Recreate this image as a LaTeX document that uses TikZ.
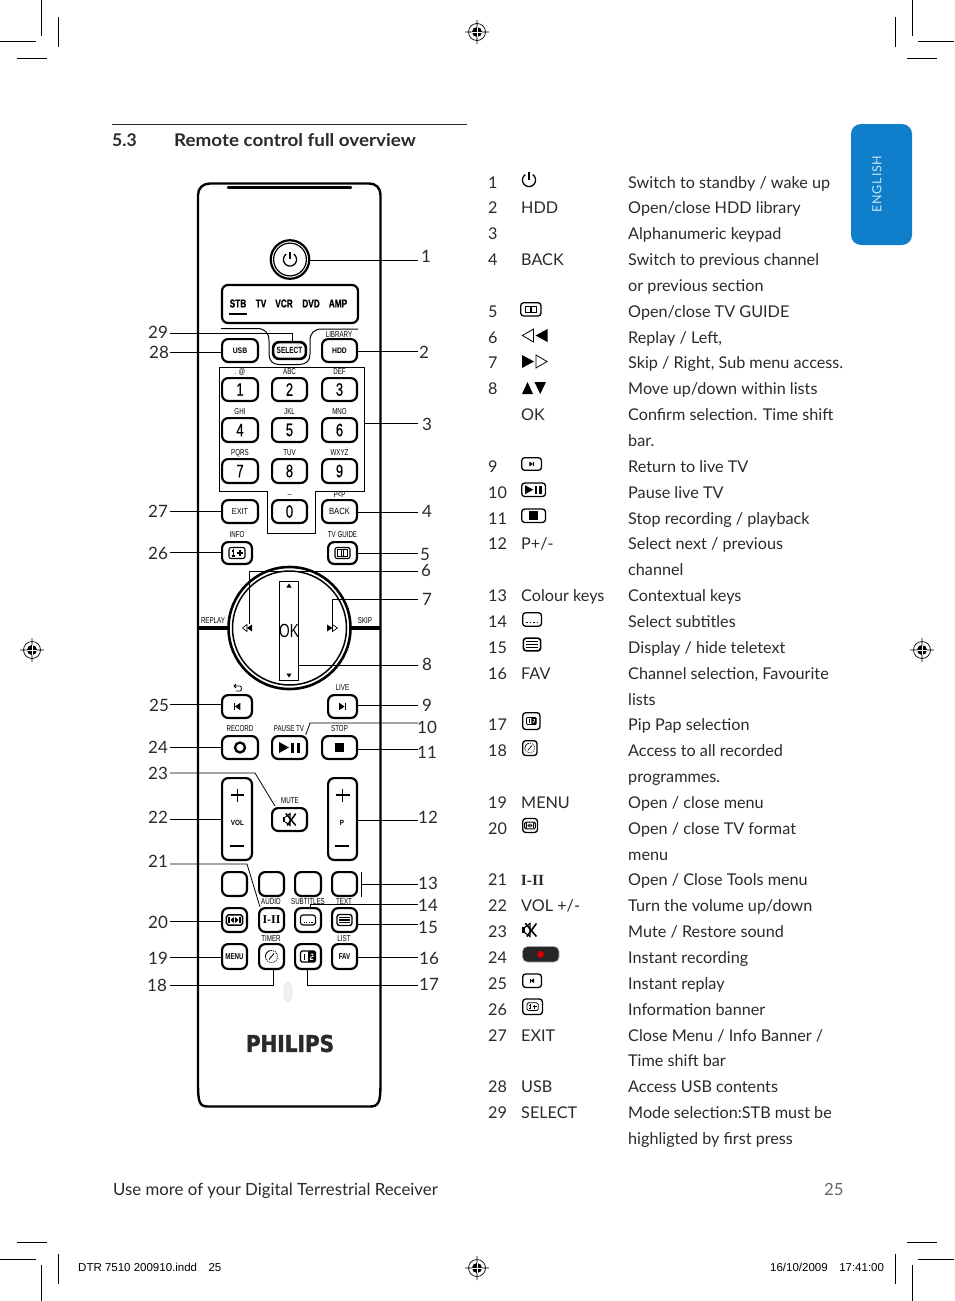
\documentclass[tikz,border=0pt]{standalone}
\usepackage{fontspec}
\usetikzlibrary{calc}
\setmainfont{Lato}
\newfontfamily\rmt[FakeStretch=0.72]{Liberation Sans}
\newfontfamily\rmd[FakeStretch=0.72,FakeBold=0.6]{Liberation Sans}
\newfontfamily\rmw[FakeStretch=0.85]{Liberation Sans}
\newfontfamily\slugf{Liberation Sans}
\newfontfamily\phil[FakeStretch=0.87,FakeBold=1.6]{DejaVu Sans}
\newfontfamily\serf{Liberation Serif}
\newcommand\fz[1]{\fontsize{#1}{#1}\selectfont}
\definecolor{ink}{HTML}{2B2A29}
\definecolor{tabblue}{HTML}{0F7FCC}
\tikzset{
 btn/.style={draw=black,line width=2.2pt,rounded corners=6pt,fill=white,inner sep=0pt,text=black},
 lab/.style={inner sep=0pt,text=black,font=\rmt\fz{8.6}},
 leader/.style={draw=black,line width=0.8pt},
 callout/.style={inner sep=0pt,text=ink,font=\fz{17}},
 body/.style={inner sep=0pt,anchor=base west,text=ink,font=\fz{16.2}},
 crop/.style={draw=black,line width=0.7pt},
}
\newcommand\btn[6][]{%
 \pgfmathsetmacro\bw{#4-#3-2.2}\pgfmathsetmacro\bh{#6-#5-2.2}%
 \node[btn,minimum width=\bw pt,minimum height=\bh pt,#1] (#2) at ({(#3+#4)/2},{(#5+#6)/2}) {};}
\newcommand\gPower[2]{\begin{scope}[shift={(#1)},scale=#2]
 \draw[line width=#2*1.3pt] plot[domain=125:415,samples=40] ({6.5*cos(\x)},{-6.5*sin(\x)});
 \draw[line width=#2*1.3pt] (0,-8)--(0,-0.5);
\end{scope}}
\newcommand\gBook[2]{\begin{scope}[shift={(#1)},scale=#2]
 \draw[line width=#2*1.1pt,rounded corners=#2*2pt] (-7.5,-5.5) rectangle (7.5,5.5);
 \draw[line width=#2*0.9pt] (-5,-3.5) rectangle (5,3.5) (-0.8,-3.5)--(-0.8,3.5) (0.8,-3.5)--(0.8,3.5);
\end{scope}}
\newcommand\gInfo[2]{\begin{scope}[shift={(#1)},scale=#2]
 \draw[line width=#2*1.1pt,rounded corners=#2*2pt] (-8,-5.5) rectangle (8,5.5);
 \draw[line width=#2*1.1pt] (-5,-2)--(-3.8,-2)--(-3.8,3) (-5.2,3)--(-2.4,3) (-3.8,-4)--(-3.8,-3.2);
 \draw[line width=#2*1.2pt] (3,-3)--(3,3) (0,0)--(6,0);
\end{scope}}
\newcommand\gPrev[2]{\begin{scope}[shift={(#1)},scale=#2]
 \fill (-4,-4) rectangle (-2.4,4); \fill (4,-4.4)--(4,4.4)--(-2.4,0)--cycle;
\end{scope}}
\newcommand\gNext[2]{\begin{scope}[shift={(#1)},scale=#2]
 \fill (4,-4) rectangle (2.4,4); \fill (-4,-4.4)--(-4,4.4)--(2.4,0)--cycle;
\end{scope}}
\newcommand\gRec[2]{\begin{scope}[shift={(#1)},scale=#2]
 \draw[line width=#2*2.3pt] (0,0) circle[radius=5];
\end{scope}}
\newcommand\gPlayPause[2]{\begin{scope}[shift={(#1)},scale=#2]
 \fill (-10.5,-5.5)--(-10.5,5.5)--(-0.5,0)--cycle;
 \fill (1.5,-5) rectangle (4.6,5); \fill (7,-5) rectangle (10.1,5);
\end{scope}}
\newcommand\gStop[2]{\begin{scope}[shift={(#1)},scale=#2]
 \fill (-4.7,-4.7) rectangle (4.7,4.7);
\end{scope}}
\newcommand\gMute[2]{\begin{scope}[shift={(#1)},scale=#2]
 \fill (-7,-2.6) rectangle (-4.4,2.6);
 \draw[line width=#2*1.1pt] (-4.4,-2.6)--(0.5,-6.2)--(0.5,6.2)--(-4.4,2.6);
 \draw[line width=#2*1.5pt] (-4,-6.4)--(6.6,6.2) (-2.5,6.2)--(6.6,-6.2);
\end{scope}}
\newcommand\gFormat[2]{\begin{scope}[shift={(#1)},scale=#2]
 \draw[line width=#2*1.6pt,rounded corners=#2*2pt] (-8.5,-5.5) rectangle (8.5,5.5);
 \fill (-6.5,-3.5) rectangle (-4.8,3.5); \fill (6.5,-3.5) rectangle (4.8,3.5);
 \fill (-4.2,0)--(-0.6,-3.2)--(-0.6,3.2)--cycle; \fill (4.2,0)--(0.6,-3.2)--(0.6,3.2)--cycle;
\end{scope}}
\newcommand\gSub[2]{\begin{scope}[shift={(#1)},scale=#2]
 \draw[line width=#2*1.1pt,rounded corners=#2*2.5pt] (-7.5,-5)--(7.5,-5)--(7.5,5)--(-7.5,5)--cycle;
 \foreach \dx in {-3.9,-1.3,1.3,3.9}{\fill (\dx-0.6,1.6) rectangle (\dx+0.6,2.9);}
\end{scope}}
\newcommand\gText[2]{\begin{scope}[shift={(#1)},scale=#2]
 \draw[line width=#2*1.4pt,rounded corners=#2*2.5pt] (-7.5,-5.5) rectangle (7.5,5.5);
 \draw[line width=#2*1.2pt] (-5.5,-2.6)--(5.5,-2.6) (-5.5,0)--(5.5,0) (-5.5,2.6)--(5.5,2.6);
\end{scope}}
\newcommand\gTimer[2]{\begin{scope}[shift={(#1)},scale=#2]
 \draw[line width=#2*0.9pt] plot[domain=100:190,samples=10] ({6*cos(\x)},{-6*sin(\x)});
 \draw[line width=#2*0.9pt,densely dotted] plot[domain=190:460,samples=30] ({6*cos(\x)},{-6*sin(\x)});
 \draw[line width=#2*0.9pt] (-2.5,3)--(2.5,-3);
\end{scope}}
\newcommand\gPip[2]{\begin{scope}[shift={(#1)},scale=#2]
 \draw[line width=#2*1.1pt,rounded corners=#2*1.5pt] (-7.5,-5.5) rectangle (7.5,5.5);
 \fill[rounded corners=#2*1pt] (0,-5.5) rectangle (7.5,5.5);
 \draw[line width=#2*0.8pt] (-3.6,-3)--(-3.6,3);
 \draw[white,line width=#2*0.9pt] (2.6,-2.4)--(5,-2.4)--(5,0)--(2.8,0.5)--(2.6,2.8)--(5.2,2.8);
\end{scope}}
\newcommand\rowt[4]{%
 \pgfmathsetmacro\yy{188+25.85*#1}%
 \if\relax\detokenize{#2}\relax\else\node[body] (num#1) at (488,\yy) {#2};\fi
 \if\relax\detokenize{#3}\relax\else\node[body] (key#1) at (521,\yy) {#3};\fi
 \node[body] (txt#1) at (628,\yy) {#4};}
\newcommand\regmark[2]{\begin{scope}[shift={(#1)}]
 \draw[line width=0.7pt] (0,0) circle[radius=8.5] (-12,0)--(12,0) (0,-12)--(0,12);
 \fill (0,0) circle[radius=5];
 \draw[white,line width=0.7pt] (-5,0)--(5,0) (0,-5)--(0,5);
 \coordinate (#2) at (0,0);
\end{scope}}
\newcommand\lsmall[4]{\node[lab] (#1) at (#2,#3) {#4};}
\begin{document}
\begin{tikzpicture}[x=1pt,y=-1pt]
\useasboundingbox (0,0) rectangle (954,1301);
\fill[white] (0,0) rectangle (954,1301);
% crop marks
\draw[crop] (41.5,0)--(41.5,36) (0,41.5)--(36,41.5) (58,17)--(58,47) (17,58)--(47,58);
\draw[crop] (912.5,0)--(912.5,36) (918,41.5)--(954,41.5) (895,17)--(895,47) (907,58)--(937,58);
\draw[crop] (41.5,1265)--(41.5,1301) (0,1259)--(36,1259) (58,1254)--(58,1284) (17,1242)--(47,1242);
\draw[crop] (912.5,1265)--(912.5,1301) (918,1259)--(954,1259) (895,1254)--(895,1284) (907,1242)--(937,1242);
\regmark{477,32}{regT}\regmark{477,1268}{regB}\regmark{32,650}{regL}\regmark{922,650}{regR}
% heading
\draw[line width=0.7pt,draw=ink] (112,124.5)--(467,124.5);
\node[body,font=\bfseries\fz{17.5}] (secnum) at (112,146) {5.3};
\node[body,font=\bfseries\fz{17.5}\addfontfeature{FakeStretch=1.075}] (sectitle) at (174,146) {Remote control full overview};
% tab
\fill[tabblue,rounded corners=10pt] (851,124) rectangle (912,245);
\node[inner sep=0pt,rotate=90,text=white!80!tabblue,font=\fz{12.5}\addfontfeature{LetterSpace=6}] (tab) at (877,184) {ENGLISH};
% remote body
\draw[line width=2.4pt,line join=round] (210,183.5)--(369,183.5) .. controls (376,183.5) and (380.5,188) .. (380.5,195)--(380.5,1085) .. controls (380.5,1092) and (380,1100) .. (378.5,1102) .. controls (377,1105.5) and (374,1106.5) .. (370,1106.5)--(208,1106.5) .. controls (204,1106.5) and (201,1105.5) .. (199.8,1102) .. controls (198.5,1100) and (198,1092) .. (198,1085)--(198,195) .. controls (198,188) and (203,183.5) .. (210,183.5)--cycle;
\draw[line width=2.4pt,line cap=round] (228,187.3)--(351,187.3);
% power
\node[circle,draw=black,line width=2.2pt,fill=white,minimum size=38.5pt,inner sep=0pt] (power) at (290,259.5) {};
\draw[line width=1.2pt] (power.center) circle[radius=16.4];
\gPower{power.center}{1}
% display
\node[btn,minimum width=136pt,minimum height=38pt] (display) at (290,304) {};
\node[lab,font=\rmd\bfseries\fz{11.5}] (stb) at (238,303.5) {STB};
\node[lab,font=\rmd\bfseries\fz{11.5}] (tv) at (261,303.5) {TV};
\node[lab,font=\rmd\bfseries\fz{11.5}] (vcr) at (284,303.5) {VCR};
\node[lab,font=\rmd\bfseries\fz{11.5}] (dvd) at (311,303.5) {DVD};
\node[lab,font=\rmd\bfseries\fz{11.5}] (amp) at (338,303.5) {AMP};
\draw[line width=2pt] (229,313.5)--(247,313.5);
% select curve
\draw[line width=1pt] (221,328.5)--(257,328.5) .. controls (265,328.5) and (269,333) .. (269,341)--(269,354) .. controls (269,361) and (273,364.5) .. (279,364.5)--(299,364.5) .. controls (306,364.5) and (310,361) .. (310,354)--(310,341) .. controls (310,333) and (314,329) .. (322,329)--(358,329);
% top buttons
\btn{usb}{221}{259}{338}{363}
\node[lab,font=\rmw\bfseries\fz{8}] (usbt) at (usb.center) {USB};
\btn[line width=2.6pt]{select}{272}{307}{341}{360}
\node[lab,font=\rmt\bfseries\fz{9}] (selectt) at (select.center) {SELECT};
\btn{hdd}{321}{358}{338}{363}
\node[lab,font=\rmw\bfseries\fz{8}] (hddt) at (hdd.center) {HDD};
\lsmall{liblab}{339}{334.5}{LIBRARY}
% keypad frame
\draw[line width=0.7pt] (219,367.5)--(364,367.5)--(364,491)--(315,491)--(315,533)--(267,533)--(267,491)--(219,491)--cycle;
% keypad
\foreach \nm/\xa/\xb/\ya/\yb/\dg/\cp in {k1/221/259/377/402/1/{. @},k2/271/308/377/402/2/ABC,k3/321/358/377/402/3/DEF,
 k4/221/259/417/443/4/GHI,k5/271/308/417/443/5/JKL,k6/321/358/417/443/6/MNO,
 k7/221/259/458/484/7/PQRS,k8/271/308/458/484/8/TUV,k9/321/358/458/484/9/WXYZ,
 k0/271/308/499/524/0/{\_}}{
 \btn{\nm}{\xa}{\xb}{\ya}{\yb}
 \node[lab,font=\rmd\fz{18}] (\nm t) at (\nm.center) {\dg};
 \node[lab] (\nm c) at ($(\nm.north)+(0,-5)$) {\cp};
}
\btn{exit}{221}{259}{499}{524}
\node[lab,font=\rmw\fz{8.5}] (exitt) at (exit.center) {EXIT};
\btn{back}{321}{358}{499}{524}
\node[lab,font=\rmw\fz{9}] (backt) at (back.center) {BACK};
\lsmall{backc}{339.5}{494.5}{P<P}
\btn{info}{221}{253}{541}{565}
\gInfo{info.center}{1}
\lsmall{infoc}{237}{535}{INFO}
\btn{guide}{327}{358}{541}{565}
\gBook{guide.center}{1}
\lsmall{guidec}{342.5}{535}{TV GUIDE}
% dial
\draw[line width=4pt] (199,628)--(228,628);
\draw[line width=4pt] (351,628)--(380,628);
\node[circle,draw=black,line width=2.6pt,fill=white,minimum size=122pt,inner sep=0pt] (dial) at (289.5,628) {};
\draw[line width=1.5pt] (dial.center) circle[radius=57];
\lsmall{replay}{213}{621}{REPLAY}
\lsmall{skip}{365}{621}{SKIP}
\node[draw=black,line width=0.8pt,minimum width=19.5pt,minimum height=99pt,inner sep=0pt,font=\rmt\fz{19}] (okbox) at (289,630.5) {OK};
\fill (289,583.5)--(286.4,587.5)--(291.6,587.5)--cycle;
\fill (289,677.5)--(286.4,673.5)--(291.6,673.5)--cycle;
\coordinate (rew) at (249.5,624);
\coordinate (fwd) at (332.7,624);
\fill (252,624.5)--(252,631.5)--(247,628)--cycle;
\draw[line width=0.7pt] (247,624.5)--(247,631.5)--(242.5,628)--cycle;
\fill (327,624.5)--(327,631.5)--(332.5,628)--cycle;
\draw[line width=0.7pt] (332.5,624.5)--(332.5,631.5)--(337.5,628)--cycle;
% lower buttons
\btn{prev}{221}{253}{694}{719}
\gPrev{prev.center}{0.85}
\draw[line width=0.8pt] (234,686)--(240,686) .. controls (242,686) and (242,691) .. (240,691)--(236,691) (234,686)--(236,684) (234,686)--(236,688);
\btn{live}{327}{358}{694}{719}
\gNext{live.center}{0.85}
\lsmall{livec}{342.5}{688}{LIVE}
\btn{rec}{221}{259}{735}{760}
\gRec{rec.center}{1}
\lsmall{recc}{240}{729}{RECORD}
\btn{pause}{271}{308}{735}{760}
\gPlayPause{pause.center}{1}
\lsmall{pausec}{289}{729}{PAUSE TV}
\btn{stop}{321}{358}{735}{760}
\gStop{stop.center}{1}
\lsmall{stopc}{339.5}{729}{STOP}
\btn{vol}{221}{253}{777}{861}
\draw[line width=1.1pt] (231,795)--(244,795) (237.5,788.5)--(237.5,801.5);
\draw[line width=2pt] (230,845.5)--(244,845.5);
\node[lab,font=\rmw\bfseries\fz{7.5}] (volt) at (237.5,823) {VOL};
\btn{prog}{327}{358}{777}{861}
\draw[line width=1.1pt] (335.5,795)--(349.5,795) (342.5,788.5)--(342.5,801.5);
\draw[line width=2pt] (335,845.5)--(349,845.5);
\node[lab,font=\rmw\bfseries\fz{7.5}] (progt) at (342,823) {P};
\btn{mute}{271}{308}{807}{832}
\gMute{mute.center}{0.95}
\lsmall{mutec}{290}{801}{MUTE}
% colour keys
\btn{ck1}{221}{248}{871}{897}
\btn{ck2}{258}{285}{871}{897}
\btn{ck3}{294}{322}{871}{897}
\btn{ck4}{331}{358}{871}{897}
\btn{fmt}{221}{248}{907}{933}
\gFormat{fmt.center}{0.95}
\btn{audio}{258}{285}{907}{933}
\node[lab,font=\serf\bfseries\fz{12}] (audiot) at (audio.center) {I-II};
\lsmall{audioc}{271}{902}{AUDIO}
\btn{subs}{294}{322}{907}{933}
\gSub{subs.center}{1}
\lsmall{subsc}{308}{902}{SUBTITLES}
\btn{text}{331}{358}{907}{933}
\gText{text.center}{1}
\lsmall{textc}{344}{902}{TEXT}
\btn{menu}{221}{248}{943}{970}
\node[lab,font=\rmt\bfseries\fz{8.5}] (menut) at (menu.center) {MENU};
\btn{timer}{258}{285}{943}{970}
\gTimer{timer.center}{1}
\lsmall{timerc}{271}{939}{TIMER}
\btn{pip}{294}{322}{943}{970}
\gPip{pip.center}{1}
\btn{fav}{331}{358}{943}{970}
\node[lab,font=\rmt\bfseries\fz{8.5}] (favt) at (fav.center) {FAV};
\lsmall{listc}{344}{939}{LIST}
\fill[black!6] (288,992) ellipse[x radius=5,y radius=11];
\node[inner sep=0pt,text=ink,font=\phil\bfseries\fz{23}] (logo) at (290,1043.5) {PHILIPS};
% callout numbers, right
\foreach \nm/\lx/\ly/\txt in {c1/426/256/1,c2/424/352/2,c3/427/424/3,c4/427/511/4,c5/425/554/5,c6/426/570/6,c7/427/599/7,c8/427/664/8,c9/427/705/9,c10/427/727/10,c11/427/752/11,c12/428/817/12,c13/428/883/13,c14/428/905/14,c15/428/927/15,c16/429/958/16,c17/429/984/17,
 c18/157/985/18,c19/158/958/19,c20/158/922/20,c21/158/861/21,c22/158/817/22,c23/158/773/23,c24/158/747/24,c25/159/705/25,c26/158/553/26,c27/158/511/27,c28/159/352/28,c29/158/332/29}{
 \node[callout] (\nm) at (\lx,\ly) {\txt};
}
% leaders right
\foreach \nm/\yy in {p1/260,p2/351,p3/423,p4/512,p5/553,p6/571,p7/599,p8/665,p9/705,p10/723,p11/749,p12/820,p13/884,p14/904,p15/924,p16/957,p17/985}{\coordinate (\nm) at (418,\yy);}
\foreach \nm/\yy in {q18/985,q19/957,q20/921,q21/864,q22/819,q23/773,q24/747,q25/704,q26/552,q27/511,q28/352,q29/333}{\coordinate (\nm) at (170,\yy);}
\draw[leader] (p1) -- (p1 -| power.east);
\draw[leader] (p2) -- (p2 -| hdd.east);
\draw[leader] (p3) -- (364,423);
\draw[leader] (p4) -- (p4 -| back.east);
\draw[leader] (p5) -- (p5 -| guide.east);
\draw[leader] (p6) -| (rew);
\draw[leader] (p7) -| (fwd);
\draw[leader] (p8) -- (p8 -| okbox.east);
\draw[leader] (p9) -- (p9 -| live.east);
\draw[leader] (p10) -- (310,723) -- (305.7,735);
\draw[leader] (p11) -- (p11 -| stop.east);
\draw[leader] (p12) -- (p12 -| prog.east);
\draw[leader] (361,872)--(361,897);
\draw[leader] (p13) -- (361,884);
\draw[leader] (p14) -- (310,904) -- (310,907);
\draw[leader] (p15) -- (p15 -| text.east);
\draw[leader] (p16) -- (p16 -| fav.east);
\draw[leader] (p17) -- (307,985) -- (307,970);
% leaders left
\draw[leader] (q18) -- (273.5,985) -- (273.5,970);
\draw[leader] (q19) -- (q19 -| menu.west);
\draw[leader] (q20) -- (q20 -| fmt.west);
\draw[leader] (q21) -- (247,864) -- (260,907);
\draw[leader] (q22) -- (q22 -| vol.west);
\draw[leader] (q23) -- (255,773) -- (275,806);
\draw[leader] (q24) -- (q24 -| rec.west);
\draw[leader] (q25) -- (q25 -| prev.west);
\draw[leader] (q26) -- (q26 -| info.west);
\draw[leader] (q27) -- (q27 -| exit.west);
\draw[leader] (q28) -- (q28 -| usb.west);
\draw[leader] (q29) -- (292,333) -- (292,341);
% table
\rowt{0}{1}{}{Switch to standby / wake up}
\rowt{1}{2}{HDD}{Open/close HDD library}
\rowt{2}{3}{}{Alphanumeric keypad}
\rowt{3}{4}{BACK}{Switch to previous channel}
\rowt{4}{}{}{or previous section}
\rowt{5}{5}{}{Open/close TV GUIDE}
\rowt{6}{6}{}{Replay / Left,}
\rowt{7}{7}{}{Skip / Right, Sub menu access.}
\rowt{8}{8}{}{Move up/down within lists}
\rowt{9}{}{OK}{Confirm selection. Time shift}
\rowt{10}{}{}{bar.}
\rowt{11}{9}{}{Return to live TV}
\rowt{12}{10}{}{Pause live TV}
\rowt{13}{11}{}{Stop recording / playback}
\rowt{14}{12}{P+/-}{Select next / previous}
\rowt{15}{}{}{channel}
\rowt{16}{13}{Colour keys}{Contextual keys}
\rowt{17}{14}{}{Select subtitles}
\rowt{18}{15}{}{Display / hide teletext}
\rowt{19}{16}{FAV}{Channel selection, Favourite}
\rowt{20}{}{}{lists}
\rowt{21}{17}{}{Pip Pap selection}
\rowt{22}{18}{}{Access to all recorded}
\rowt{23}{}{}{programmes.}
\rowt{24}{19}{MENU}{Open / close menu}
\rowt{25}{20}{}{Open / close TV format}
\rowt{26}{}{}{menu}
\rowt{27}{21}{}{Open / Close Tools menu}
\rowt{28}{22}{VOL +/-}{Turn the volume up/down}
\rowt{29}{23}{}{Mute / Restore sound}
\rowt{30}{24}{}{Instant recording}
\rowt{31}{25}{}{Instant replay}
\rowt{32}{26}{}{Information banner}
\rowt{33}{27}{EXIT}{Close Menu / Info Banner /}
\rowt{34}{}{}{Time shift bar}
\rowt{35}{28}{USB}{Access USB contents}
\rowt{36}{29}{SELECT}{Mode selection:STB must be}
\rowt{37}{}{}{highligted by first press}
% table icons
\gPower{529,180}{1}
\draw[line width=1.3pt,rounded corners=3pt] (520.7,302.7) rectangle (541,316);
\draw[line width=0.7pt] (525.5,306) rectangle (536.5,312.5) (530.2,306)--(530.2,312.5) (531.8,306)--(531.8,312.5);
\draw[line width=0.8pt,line join=miter] (533.5,329)--(533.5,342)--(522.5,335.5)--cycle;
\fill (547.5,329)--(547.5,342)--(535.5,335.5)--cycle;
\fill (522,355)--(522,368)--(534,361.5)--cycle;
\draw[line width=0.8pt] (536,355)--(536,368)--(547,361.5)--cycle;
\fill (522,394)--(533,394)--(527.5,382)--cycle;
\fill (534.5,382)--(546,382)--(540.2,394)--cycle;
\draw[line width=1.3pt,rounded corners=3pt] (521.7,457.7) rectangle (541.5,470.3);
\gNext{531.6,464}{0.55}
\draw[line width=1.3pt,rounded corners=3pt] (521.7,483) rectangle (545.5,496.5);
\gPlayPause{533.6,489.7}{0.8}
\draw[line width=1.3pt,rounded corners=3pt] (521.7,509) rectangle (545.5,522.5);
\gStop{533.6,515.7}{0.9}
\draw[line width=1.3pt,rounded corners=3pt] (522.7,612.7) rectangle (541.5,626.3);
\foreach \dx in {527,530.5,534,537.5}{\fill (\dx-0.6,621.5) rectangle (\dx+0.6,623);}
\gText{532,644.5}{1.15}
\draw[line width=1.3pt,rounded corners=3pt] (522.7,712.7) rectangle (540,729.5);
\gPip{531.3,721}{0.65}
\draw[line width=1.3pt,rounded corners=3pt] (522.7,740.7) rectangle (537,755.5);
\gTimer{529.8,748}{0.8}
\draw[line width=1.3pt,rounded corners=3pt] (522.7,818.5) rectangle (537.5,832.5);
\gFormat{530,825.5}{0.62}
\node[inner sep=0pt,text=ink,font=\serf\bfseries\fz{15.5}] (key27) at (532.5,880) {I-II};
\gMute{529.5,930}{1.05}
\draw[line width=0.6pt,draw=black!35,fill=black!85,rounded corners=5pt] (522.5,946.5) rectangle (559,962);
\fill[red!85!black] (540.5,954.2) circle[radius=3.4];
\draw[line width=1.3pt,rounded corners=3pt] (522.7,974) rectangle (541.5,987.5);
\gPrev{532,980.7}{0.55}
\draw[line width=1.3pt,rounded corners=3pt] (522.7,999) rectangle (542.5,1014.5);
\gInfo{532.6,1006.7}{0.7}
% footer
\node[body,font=\fz{16.8}] (foot) at (113,1195) {Use more of your Digital Terrestrial Receiver};
\node[body,text=black!60,font=\fz{16.8}] (pageno) at (824,1195) {25};
\node[inner sep=0pt,anchor=base west,font=\slugf\fz{11.5}] (slug1) at (78,1271) {DTR 7510 200910.indd\quad 25};
\node[inner sep=0pt,anchor=base west,font=\slugf\fz{11.5}] (slug2) at (770,1271) {16/10/2009\quad 17:41:00};
\end{tikzpicture}
\end{document}
